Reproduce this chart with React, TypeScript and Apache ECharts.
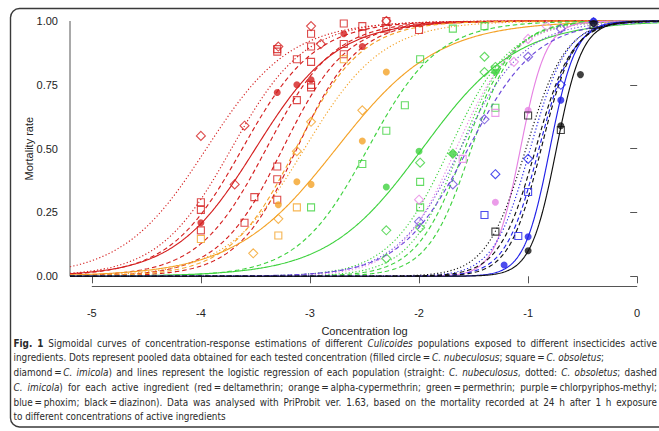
import React, { useEffect, useRef } from "react";
import * as echarts from "echarts";

// ---------- axes ----------
const xTicks = [-5, -4, -3, -2, -1, 0];
const yTicks = [0, 0.25, 0.5, 0.75, 1];

// ---------- logistic regression lines ----------
// insecticide key, population (nub = solid, obs = dotted, imi = dashed), LC50 (log conc), slope
const curveInsecticide = [
  "delta", "delta", "delta", "delta", "delta", "delta", "delta",
  "alpha", "alpha", "alpha",
  "perm", "perm", "perm", "perm", "perm", "perm",
  "chlorV", "chlorV", "chlorP", "chlorP",
  "phox", "phox", "phox",
  "diaz", "diaz", "diaz", "diaz",
];
const curvePopulation = [
  "nub", "obs", "obs", "imi", "imi", "imi", "imi",
  "nub", "obs", "imi",
  "nub", "imi", "obs", "obs", "imi", "imi",
  "nub", "obs", "imi", "obs",
  "nub", "imi", "obs",
  "nub", "obs", "imi", "imi",
];
const curveLC50 = [
  -3.5, -3.95, -3.72, -3.62, -3.4, -3.25, -3.12,
  -2.76, -3.05, -3.13,
  -1.97, -2.47, -1.72, -1.62, -1.58, -1.52,
  -1.07, -1.66, -1.55, -1.62,
  -0.8, -0.9, -0.98,
  -0.74, -1.02, -0.93, -0.88,
];
const curveSlope = [
  2.7, 2.6, 3.0, 3.0, 3.2, 3.4, 3.6,
  2.15, 2.8, 3.3,
  2.3, 3.1, 3.6, 4.2, 4.5, 5.0,
  8.5, 3.8, 3.2, 3.4,
  8.5, 6.5, 6.0,
  8.5, 5.5, 6.0, 6.8,
];

// ---------- observed (pooled) points ----------
const deltaNub = [[-4.0, 0.21], [-3.3, 0.72], [-3.12, 0.75], [-2.99, 0.77], [-2.69, 0.95], [-2.52, 0.9]];
const deltaObs = [
  [-4.0, 0.29], [-4.0, 0.26], [-4.0, 0.18], [-3.6, 0.21], [-3.51, 0.31],
  [-3.3, 0.43], [-3.3, 0.38], [-3.3, 0.3], [-3.3, 0.89], [-3.3, 0.88],
  [-3.12, 0.85], [-3.12, 0.69], [-2.99, 0.95], [-2.99, 0.9], [-2.99, 0.84],
  [-2.99, 0.75], [-2.99, 0.74], [-2.69, 0.99], [-2.69, 0.91], [-2.69, 0.87],
  [-2.52, 0.98], [-2.52, 0.95], [-2.3, 1.0], [-2.3, 0.97], [-2.0, 0.965],
];
const deltaImi = [[-4.0, 0.55], [-3.69, 0.36], [-3.6, 0.59], [-3.29, 0.9], [-2.99, 0.98], [-2.9, 0.91], [-2.3, 1.0]];

const alphaNub = [[-3.29, 0.28], [-3.12, 0.37], [-2.99, 0.36], [-2.52, 0.53], [-2.3, 0.8]];
const alphaObs = [[-4.0, 0.146], [-3.29, 0.16], [-3.12, 0.27], [-2.69, 0.85]];
const alphaImi = [[-3.52, 0.09], [-3.29, 0.225], [-3.12, 0.49], [-2.99, 0.605], [-2.52, 0.65]];

const permNub = [[-2.3, 0.35], [-2.0, 0.49], [-1.69, 0.48], [-1.3, 0.8]];
const permObs = [
  [-2.99, 0.27], [-2.52, 0.44], [-2.3, 0.57], [-2.13, 0.67], [-1.99, 0.85],
  [-1.69, 0.97], [-1.4, 0.98], [-1.99, 0.37], [-1.99, 0.27], [-1.3, 0.66], [-1.3, 0.81],
];
const permImi = [[-2.3, 0.18], [-2.3, 0.07], [-1.99, 0.445], [-1.99, 0.19], [-1.69, 0.48], [-1.4, 0.86], [-1.4, 0.8], [-1.3, 0.82]];

const chlorNub = [[-1.3, 0.29], [-1.0, 0.65]];
const chlorObs = [[-1.6, 0.46], [-1.3, 0.64]];
const chlorImiPink = [[-2.0, 0.3], [-1.13, 0.84], [-1.0, 0.93], [-0.83, 0.98]];
const chlorImi = [[-2.0, 0.214], [-1.69, 0.36], [-1.4, 0.615], [-1.0, 0.86], [-0.7, 0.97]];

const phoxNub = [[-1.22, 0.044], [-1.0, 0.155], [-0.7, 0.69], [-0.4, 1.0]];
const phoxObs = [[-1.4, 0.24], [-1.09, 0.158], [-1.0, 0.33]];
const phoxImi = [[-1.3, 0.4], [-1.0, 0.46], [-0.7, 0.75], [-0.4, 0.995]];

const diazNub = [[-1.0, 0.1], [-0.7, 0.59], [-0.52, 0.79], [-0.4, 0.99]];
const diazObs = [[-1.3, 0.175], [-1.0, 0.63], [-0.7, 0.573], [-0.4, 0.985]];

// ---------- styles ----------
const palette: Record<string, string> = {
  delta: "#D41F1F",
  alpha: "#F4A227",
  perm: "#3ED23E",
  chlorV: "#E683E3",
  chlorP: "#6C48DA",
  phox: "#2020E8",
  diaz: "#111111",
};

const pointSets: [number[][], string, string][] = [
  [deltaNub, "delta", "nub"], [deltaObs, "delta", "obs"], [deltaImi, "delta", "imi"],
  [alphaNub, "alpha", "nub"], [alphaObs, "alpha", "obs"], [alphaImi, "alpha", "imi"],
  [permNub, "perm", "nub"], [permObs, "perm", "obs"], [permImi, "perm", "imi"],
  [chlorNub, "chlorV", "nub"], [chlorObs, "chlorV", "obs"], [chlorImiPink, "chlorV", "imi"], [chlorImi, "chlorP", "imi"],
  [phoxNub, "phox", "nub"], [phoxObs, "phox", "obs"], [phoxImi, "phox", "imi"],
  [diazNub, "diaz", "nub"], [diazObs, "diaz", "obs"],
];

// ---------- caption ----------
type Seg = [string, string];
const captionLines: { segs: Seg[]; justify: boolean }[] = [
  {
    segs: [["Fig. 1", "b"], [" Sigmoidal curves of concentration-response estimations of different ", "n"], ["Culicoides", "i"], [" populations exposed to different insecticides active", "n"]],
    justify: true,
  },
  {
    segs: [["ingredients. Dots represent pooled data obtained for each tested concentration (filled circle\u2009=\u2009", "n"], ["C. nubeculosus", "i"], ["; square\u2009=\u2009", "n"], ["C. obsoletus", "i"], [";", "n"]],
    justify: false,
  },
  {
    segs: [["diamond\u2009=\u2009", "n"], ["C. imicola", "i"], [") and lines represent the logistic regression of each population (straight: ", "n"], ["C. nubeculosus", "i"], [", dotted: ", "n"], ["C. obsoletus", "i"], ["; dashed", "n"]],
    justify: true,
  },
  {
    segs: [["C. imicola", "i"], [") for each active ingredient (red\u2009=\u2009deltamethrin; orange\u2009=\u2009alpha-cypermethrin; green\u2009=\u2009permethrin; purple\u2009=\u2009chlorpyriphos-methyl;", "n"]],
    justify: true,
  },
  {
    segs: [["blue\u2009=\u2009phoxim; black\u2009=\u2009diazinon). Data was analysed with PriProbit ver. 1.63, based on the mortality recorded at 24 h after 1 h exposure", "n"]],
    justify: true,
  },
  { segs: [["to different concentrations of active ingredients", "n"]], justify: false },
];

const CAP_FAMILY = "'Liberation Sans Narrow', 'DejaVu Sans Condensed', 'Liberation Sans', sans-serif";
const AX_FAMILY = "'Liberation Sans', Arial, sans-serif";

function buildCaption(): any[] {
  const canvas = document.createElement("canvas");
  const ctx = canvas.getContext("2d")!;
  const fontOf = (st: string, size: number) =>
    `${st === "i" ? "italic" : "normal"} ${st === "b" ? "bold" : "normal"} ${size}px ${CAP_FAMILY}`;
  const measure = (t: string, st: string, size: number) => {
    ctx.font = fontOf(st, size);
    return ctx.measureText(t).width;
  };
  const toWords = (segs: Seg[]) => {
    const words: { text: string; st: string }[][] = [];
    let cur: { text: string; st: string }[] = [];
    segs.forEach(([txt, st]) => {
      const parts = txt.split(" ");
      parts.forEach((p, pi) => {
        if (pi > 0) {
          if (cur.length) words.push(cur);
          cur = [];
        }
        if (p) cur.push({ text: p, st });
      });
    });
    if (cur.length) words.push(cur);
    return words;
  };
  const left = 13.5;
  const right = 657;
  const base = 11;
  const w2 = toWords(captionLines[1].segs);
  const nat2 =
    w2.reduce((s, w) => s + w.reduce((a, p) => a + measure(p.text, p.st, base), 0), 0) +
    (w2.length - 1) * measure(" ", "n", base);
  let size = (base * 591) / nat2;
  size = Math.max(8.5, Math.min(12.5, size));
  const els: any[] = [];
  captionLines.forEach((line, li) => {
    const words = toWords(line.segs);
    const widths = words.map((w) => w.reduce((a, p) => a + measure(p.text, p.st, size), 0));
    const total = widths.reduce((a, b) => a + b, 0);
    const space = measure(" ", "n", size);
    const gap = line.justify && words.length > 1 ? (right - left - total) / (words.length - 1) : space;
    const y = 343 + li * 14.75;
    let x = left;
    words.forEach((w, wi) => {
      let px = x;
      w.forEach((p) => {
        els.push({
          type: "text",
          x: px,
          y,
          silent: true,
          style: {
            text: p.text,
            fill: "#2a2a2a",
            fontSize: size,
            fontFamily: CAP_FAMILY,
            fontStyle: p.st === "i" ? "italic" : "normal",
            fontWeight: p.st === "b" ? "bold" : "normal",
            verticalAlign: "middle",
            align: "left",
          },
        });
        px += measure(p.text, p.st, size);
      });
      x += widths[wi] + gap;
    });
  });
  return els;
}

function buildOption(): any {
  const X_MIN = -5.2;
  const X_MAX = 0.2;
  const Y_MIN = -0.04;
  const Y_MAX = 1.04;
  const xs: number[] = [];
  for (let i = 0; i <= 540; i++) xs.push(X_MIN + i * 0.01);

  const dashFor = (p: string) => (p === "nub" ? "solid" : p === "obs" ? [1.2, 2.2] : [4.5, 3]);

  const curveSeries = curveLC50.map((m, i) => ({
    type: "line",
    name: `${curveInsecticide[i]}-${curvePopulation[i]}`,
    data: xs.map((x) => [x, 1 / (1 + Math.exp(-curveSlope[i] * (x - m)))]),
    showSymbol: false,
    symbol: "none",
    silent: true,
    z: 2,
    lineStyle: { color: palette[curveInsecticide[i]], width: 1.15, type: dashFor(curvePopulation[i]) },
  }));

  const pointSeries = pointSets.map(([data, ins, pop]) => {
    const col = palette[ins];
    if (pop === "nub")
      return { type: "scatter", data, symbol: "circle", symbolSize: 7, z: 5, silent: true, itemStyle: { color: col } };
    return {
      type: "scatter",
      data,
      symbol: pop === "obs" ? "rect" : "diamond",
      symbolSize: pop === "obs" ? 7 : 9,
      z: 5,
      silent: true,
      itemStyle: { color: "rgba(255,255,255,0)", borderColor: col, borderWidth: 1.1 },
    };
  });

  const axisSeries = [
    {
      type: "line",
      data: [[xTicks[0], Y_MIN], [xTicks[xTicks.length - 1], Y_MIN]],
      showSymbol: false, symbol: "none", silent: true, clip: false, z: 1,
      lineStyle: { color: "#555", width: 1 },
    },
    {
      type: "line",
      data: [[X_MIN, yTicks[0]], [X_MIN, yTicks[yTicks.length - 1]]],
      showSymbol: false, symbol: "none", silent: true, clip: false, z: 1,
      lineStyle: { color: "#555", width: 1 },
    },
  ];

  return {
    animation: false,
    backgroundColor: "#ffffff",
    grid: { left: 70, top: 10.8, width: 594, height: 275.7, containLabel: false },
    xAxis: {
      type: "value",
      min: X_MIN,
      max: X_MAX,
      axisLine: { show: false },
      splitLine: { show: false },
      axisTick: { show: true, length: 7, lineStyle: { color: "#555" }, customValues: xTicks },
      axisLabel: { customValues: xTicks, margin: 21, color: "#222", fontSize: 11, fontFamily: AX_FAMILY },
      name: "Concentration log",
      nameLocation: "middle",
      nameGap: 39,
      nameMoveOverlap: false,
      nameTextStyle: { color: "#222", fontSize: 11, fontFamily: AX_FAMILY },
    },
    yAxis: {
      type: "value",
      min: Y_MIN,
      max: Y_MAX,
      axisLine: { show: false },
      splitLine: { show: false },
      axisTick: { show: true, length: 7, lineStyle: { color: "#555" }, customValues: yTicks },
      axisLabel: {
        customValues: yTicks,
        margin: 12,
        color: "#222",
        fontSize: 11,
        fontFamily: AX_FAMILY,
        formatter: (v: number) => v.toFixed(2),
      },
      name: "Mortality rate",
      nameLocation: "middle",
      nameRotate: 90,
      nameGap: 36,
      nameMoveOverlap: false,
      nameTextStyle: { color: "#222", fontSize: 11, fontFamily: AX_FAMILY },
    },
    series: [...axisSeries, ...curveSeries, ...pointSeries],
    graphic: [
      {
        type: "rect",
        silent: true,
        shape: { x: 10.5, y: 8.5, width: 700, height: 418.5, r: 9 },
        style: { fill: "none", stroke: "#3a3a3a", lineWidth: 1.4 },
        z: 10,
      },
      ...buildCaption(),
    ],
  };
}

export default function App() {
  const ref = useRef<HTMLDivElement>(null);
  useEffect(() => {
    document.body.style.margin = "0";
    const chart = echarts.init(ref.current!, null, { renderer: "svg" });
    chart.setOption(buildOption());
    return () => chart.dispose();
  }, []);
  return (
    <div
      ref={ref}
      style={{ position: "absolute", left: 0, top: 0, width: 659, height: 431, background: "#fff" }}
    />
  );
}
